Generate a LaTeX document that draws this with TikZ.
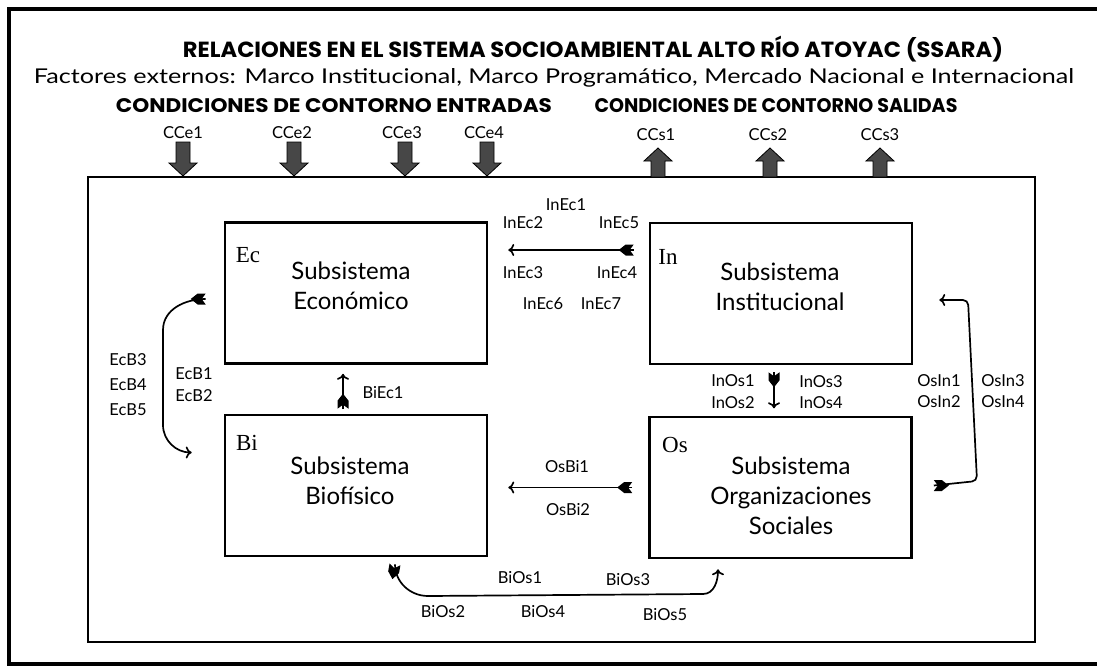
\documentclass[tikz,border=0pt]{standalone}
\usepackage{graphicx}
\usepackage{fontspec}
\setmainfont{Lato}
\newfontfamily\titlefont{Poppins}
\newfontfamily\boxfont{Liberation Serif}
\usetikzlibrary{arrows.meta,calc}
\begin{document}
\begin{tikzpicture}[x=1pt,y=-1pt,
  lbl/.style={font=\fontsize{16.5}{18}\selectfont, text=black, inner sep=0pt},
  cclbl/.style={font=\fontsize{16.5}{18}\selectfont, text=black, inner sep=0pt},
  subsys/.style={rectangle, draw=black, line width=2.6pt, minimum width=262pt, minimum height=141pt, inner sep=0pt},
  abbr/.style={font=\boxfont\fontsize{23}{26}\selectfont, inner sep=0pt, text=black},
  btitle/.style={font=\fontsize{24}{30}\selectfont, align=center, inner sep=0pt, text=black},
  conn/.style={line width=1.7pt, -{To[length=6pt,width=12pt]}},
  fletch/.pic={\fill[black] (0,-5.5) -- (8,-5.5) -- (15,0) -- (8,5.5) -- (0,5.5) -- (4,0) -- cycle;},
  blkdown/.pic={\filldraw[fill=black!72,draw=black,line width=0.8pt] (-7,-34) -- (-7,-13) -- (-14,-13) -- (0,0) -- (14,-13) -- (7,-13) -- (7,-34) -- cycle;},
  blkup/.pic={\filldraw[fill=black!72,draw=black,line width=0.8pt] (-7,0) -- (-7,-16) -- (-14,-16) -- (0,-29) -- (14,-16) -- (7,-16) -- (7,0) -- cycle;}
]
\useasboundingbox (0,0) rectangle (1097,666);
\fill[white] (0,0) rectangle (1097,666);
% outer frame
\draw[line width=3.5pt] (1097,9) -- (9,9) -- (9,664) -- (1097,664);
% inner frame
\node[draw=black, line width=2.4pt, minimum width=947pt, minimum height=465pt, inner sep=0pt] (frame) at (561.5,409.5) {};

% titles
\node (title) at (593,50) {\resizebox{820pt}{20pt}{\titlefont\bfseries RELACIONES EN EL SISTEMA SOCIOAMBIENTAL ALTO R\smash{Í}O ATOYAC (SSARA)}};
\node[text=black] (subtitle) at (554,78) {\resizebox{1040pt}{15pt}{Factores externos: Marco Institucional, Marco Program\smash{á}tico, Mercado Nacional e Internacional}};
\node (hin) at (334,106) {\resizebox{436pt}{14pt}{\titlefont\bfseries CONDICIONES DE CONTORNO ENTRADAS}};
\node (hout) at (776,106) {\resizebox{363pt}{14pt}{\titlefont\bfseries CONDICIONES DE CONTORNO SALIDAS}};

% boundary conditions
\node[cclbl] (cce1) at (183,133) {CCe1};
\node[cclbl] (cce2) at (292,133) {CCe2};
\node[cclbl] (cce3) at (402,133) {CCe3};
\node[cclbl] (cce4) at (484,133) {CCe4};
\node[cclbl] (ccs1) at (656,135) {CCs1};
\node[cclbl] (ccs2) at (768,135) {CCs2};
\node[cclbl] (ccs3) at (880,135) {CCs3};
\pic at (183,176) {blkdown};
\pic at (294,176) {blkdown};
\pic at (405,176) {blkdown};
\pic at (487,176) {blkdown};
\pic at (658,177) {blkup};
\pic at (770,177) {blkup};
\pic at (880,177) {blkup};

% subsystems
\node[subsys] (Ec) at (356,293) {};
\node[subsys] (In) at (781,293.5) {};
\node[subsys] (Bi) at (356,485.5) {};
\node[subsys] (Os) at (780.5,487.5) {};

\node[abbr] (ecab) at (248,255) {Ec};
\node[abbr] (inab) at (668,257) {In};
\node[abbr] (biab) at (247,443) {Bi};
\node[abbr] (osab) at (675,445) {Os};

\node[btitle] (ectx) at (351,286) {Subsistema\\Económico};
\node[btitle] (intx) at (780,287) {Subsistema\\Institucional};
\node[btitle] (bitx) at (350,481) {Subsistema\\Biofísico};
\node[btitle] (ostx) at (791,496) {Subsistema\\Organizaciones\\Sociales};

% connector tails
\coordinate (tInEc) at ($(In.west)+(-15,-43.5)$);
\coordinate (tBiEc) at ($(Bi.north)+(-13,-5)$);
\coordinate (tEcB)  at ($(Ec.west)+(-18,6)$);
\coordinate (tOsBi) at ($(Os.west)+(-16,0)$);
\coordinate (tInOs) at ($(In.south)+(-7,7)$);
\coordinate (tOsIn) at ($(Os.east)+(21,-2)$);
\coordinate (tBiOs) at ($(Bi.south)+(39,7)$);

% connectors
\draw[conn] (tInEc) -- ($(Ec.east)+(20,-43)$);
\draw[conn] (tBiEc) -- ($(Ec.south)+(-13,9)$);
\draw[conn] (tEcB) to[out=180,in=90] (163,330) -- (163,425) to[out=-90,in=180] ($(Bi.west)+(-32,-33)$);
\draw[conn] (tOsBi) -- ($(Bi.east)+(20,2)$);
\draw[conn] (tInOs) -- ($(In.south)+(-7,43)$);
\draw[conn, rounded corners=5pt] (tOsIn) -- (977,481) -- (968,300) -- ($(In.east)+(26,6.5)$);
\draw[conn] (tBiOs) to[out=-90,in=180] (428,596) -- (703,594) to[out=0,in=-90] ($(Os.south)+(-62.5,10)$);

\pic[rotate=180] at (tInEc) {fletch};
\pic[rotate=90] at (tBiEc) {fletch};
\pic[rotate=180] at (tEcB) {fletch};
\pic[rotate=180] at (tOsBi) {fletch};
\pic[rotate=-90] at (tInOs) {fletch};
\pic[rotate=0] at (tOsIn) {fletch};
\pic[rotate=-100] at (tBiOs) {fletch};

% labels
\node[lbl] at (566,205) {InEc1};
\node[lbl] at (523,223) {InEc2};
\node[lbl] at (619,223) {InEc5};
\node[lbl] at (523,273) {InEc3};
\node[lbl] at (617,273) {InEc4};
\node[lbl] at (543,304) {InEc6};
\node[lbl] at (601,304) {InEc7};
\node[lbl] at (383,393) {BiEc1};
\node[lbl] at (128,360) {EcB3};
\node[lbl] at (128,385) {EcB4};
\node[lbl] at (128,410) {EcB5};
\node[lbl] at (194,374) {EcB1};
\node[lbl] at (194,396) {EcB2};
\node[lbl] at (733,381) {InOs1};
\node[lbl] at (733,403) {InOs2};
\node[lbl] at (821,382) {InOs3};
\node[lbl] at (821,403) {InOs4};
\node[lbl] at (939,381) {OsIn1};
\node[lbl] at (939,402) {OsIn2};
\node[lbl] at (1003,381) {OsIn3};
\node[lbl] at (1003,402) {OsIn4};
\node[lbl] at (567,467) {OsBi1};
\node[lbl] at (568,510) {OsBi2};
\node[lbl] at (520,578) {BiOs1};
\node[lbl] at (628,580) {BiOs3};
\node[lbl] at (443,612) {BiOs2};
\node[lbl] at (543,612) {BiOs4};
\node[lbl] at (665,615) {BiOs5};
\end{tikzpicture}
\end{document}
